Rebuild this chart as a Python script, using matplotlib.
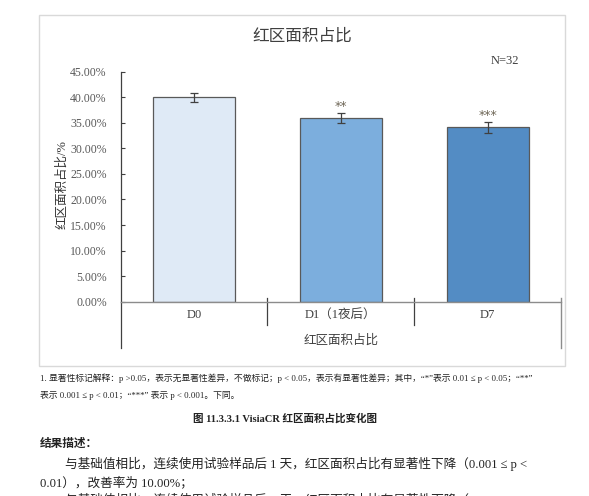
import numpy as np
import matplotlib
matplotlib.use('Agg')
import matplotlib.pyplot as plt
from matplotlib.patches import Rectangle

plt.rcParams['font.family'] = ['Liberation Serif', 'Noto Sans CJK SC', 'DejaVu Sans']

categories = ['D0', 'D1（1夜后）', 'D7']
values = [0.400, 0.360, 0.341]
errors = [0.009, 0.010, 0.010]
marks = ['', '**', '***']
bar_colors = ['#dfeaf6', '#7caedd', '#538cc4']
yticks = [0.0, 0.05, 0.10, 0.15, 0.20, 0.25, 0.30, 0.35, 0.40, 0.45]

W, H = 589, 496
fig = plt.figure(figsize=(W / 100, H / 100), dpi=100)

def fx(x):
    return x / W

def fy(y):
    return 1 - y / H

# chart frame
fig.patches.append(Rectangle((fx(39), fy(366)), fx(564.7) - fx(39), fy(15) - fy(366),
                             transform=fig.transFigure, fill=False, ec='#d9d9d9', lw=1))

ax = fig.add_axes([fx(120.7), fy(301.7), fx(561) - fx(120.7), fy(71.7) - fy(301.7)])
x = np.arange(len(categories))
ax.bar(x, values, width=0.56, color=bar_colors, edgecolor='#595959', lw=0.9)
ax.errorbar(x, values, yerr=errors, fmt='none', ecolor='#404040', elinewidth=0.9,
            capsize=3, capthick=0.9)
for xi, v, e, m in zip(x, values, errors, marks):
    if m:
        ax.annotate(m, (xi, v + e), xytext=(0, 0), textcoords='offset points',
                    ha='center', va='bottom', fontsize=9, color='#6f6757',
                    family='DejaVu Sans')

ax.set_xlim(-0.5, 2.5)
ax.set_ylim(0, 0.45)
ax.set_yticks(yticks)
ax.set_yticklabels(['{:.2f}%'.format(t * 100) for t in yticks], fontsize=8.5, color='#595959')
ax.tick_params(axis='y', direction='in', length=3, width=0.8, color='#404040', pad=10)
ax.set_xticks([])
for s in ['top', 'right']:
    ax.spines[s].set_visible(False)
ax.spines['left'].set_color('#404040')
ax.spines['left'].set_linewidth(0.9)
ax.spines['bottom'].set_color('#8c8c8c')
ax.spines['bottom'].set_linewidth(1.0)

# multi-level category axis lines
tr = ax.get_xaxis_transform()
ax.plot([-0.5, -0.5], [0, -0.201], transform=tr, clip_on=False, color='#404040', lw=0.9)
ax.plot([2.5, 2.5], [0.016, -0.201], transform=tr, clip_on=False, color='#8c8c8c', lw=1.0)
for b in [0.5, 1.5]:
    ax.plot([b, b], [0.016, -0.101], transform=tr, clip_on=False, color='#404040', lw=0.9)
for xi, c in zip(x, categories):
    ax.text(xi, -0.057, c, transform=tr, ha='center', va='center', fontsize=9, color='#404040')
ax.text(1, -0.166, '红区面积占比', transform=tr, ha='center', va='center', fontsize=9,
        color='#404040', family='Noto Sans CJK SC')

fig.text(fx(302), fy(36.5), '红区面积占比', ha='center', va='center', fontsize=12,
         color='#404040', family='Noto Sans CJK SC')
fig.text(fx(505), fy(61), 'N=32', ha='center', va='center', fontsize=9, color='#404040')
fig.text(fx(62), fy(185), '红区面积占比/%', ha='center', va='center', rotation=90,
         fontsize=9, color='#333333')

# document text below the chart
fig.text(fx(40), fy(378.5), '1. 显著性标记解释：p >0.05，表示无显著性差异，不做标记；p < 0.05，表示有显著性差异；其中，“*”表示 0.01 ≤ p < 0.05；“**”',
         ha='left', va='center', fontsize=6.35, color='#222222')
fig.text(fx(40), fy(395.5), '表示 0.001 ≤ p < 0.01；“***” 表示 p < 0.001。下同。',
         ha='left', va='center', fontsize=6.35, color='#222222')
fig.text(fx(193), fy(418), '图 11.3.3.1 VisiaCR 红区面积占比变化图', ha='left', va='center',
         fontsize=7.6, fontweight='bold', color='#222222')
fig.text(fx(40), fy(443.5), '结果描述：', ha='left', va='center', fontsize=8.4,
         fontweight='bold', color='#222222')
fig.text(fx(65), fy(464), '与基础值相比，连续使用试验样品后 1 天，红区面积占比有显著性下降（0.001 ≤ p <',
         ha='left', va='center', fontsize=9.1, color='#222222')
fig.text(fx(40), fy(483), '0.01），改善率为 10.00%；', ha='left', va='center', fontsize=9.1,
         color='#222222')
fig.text(fx(65), fy(499.5), '与基础值相比，连续使用试验样品后 7 天，红区面积占比有显著性下降（p < 0.001',
         ha='left', va='center', fontsize=9.1, color='#222222')

fig.savefig('out.png', dpi=100)
